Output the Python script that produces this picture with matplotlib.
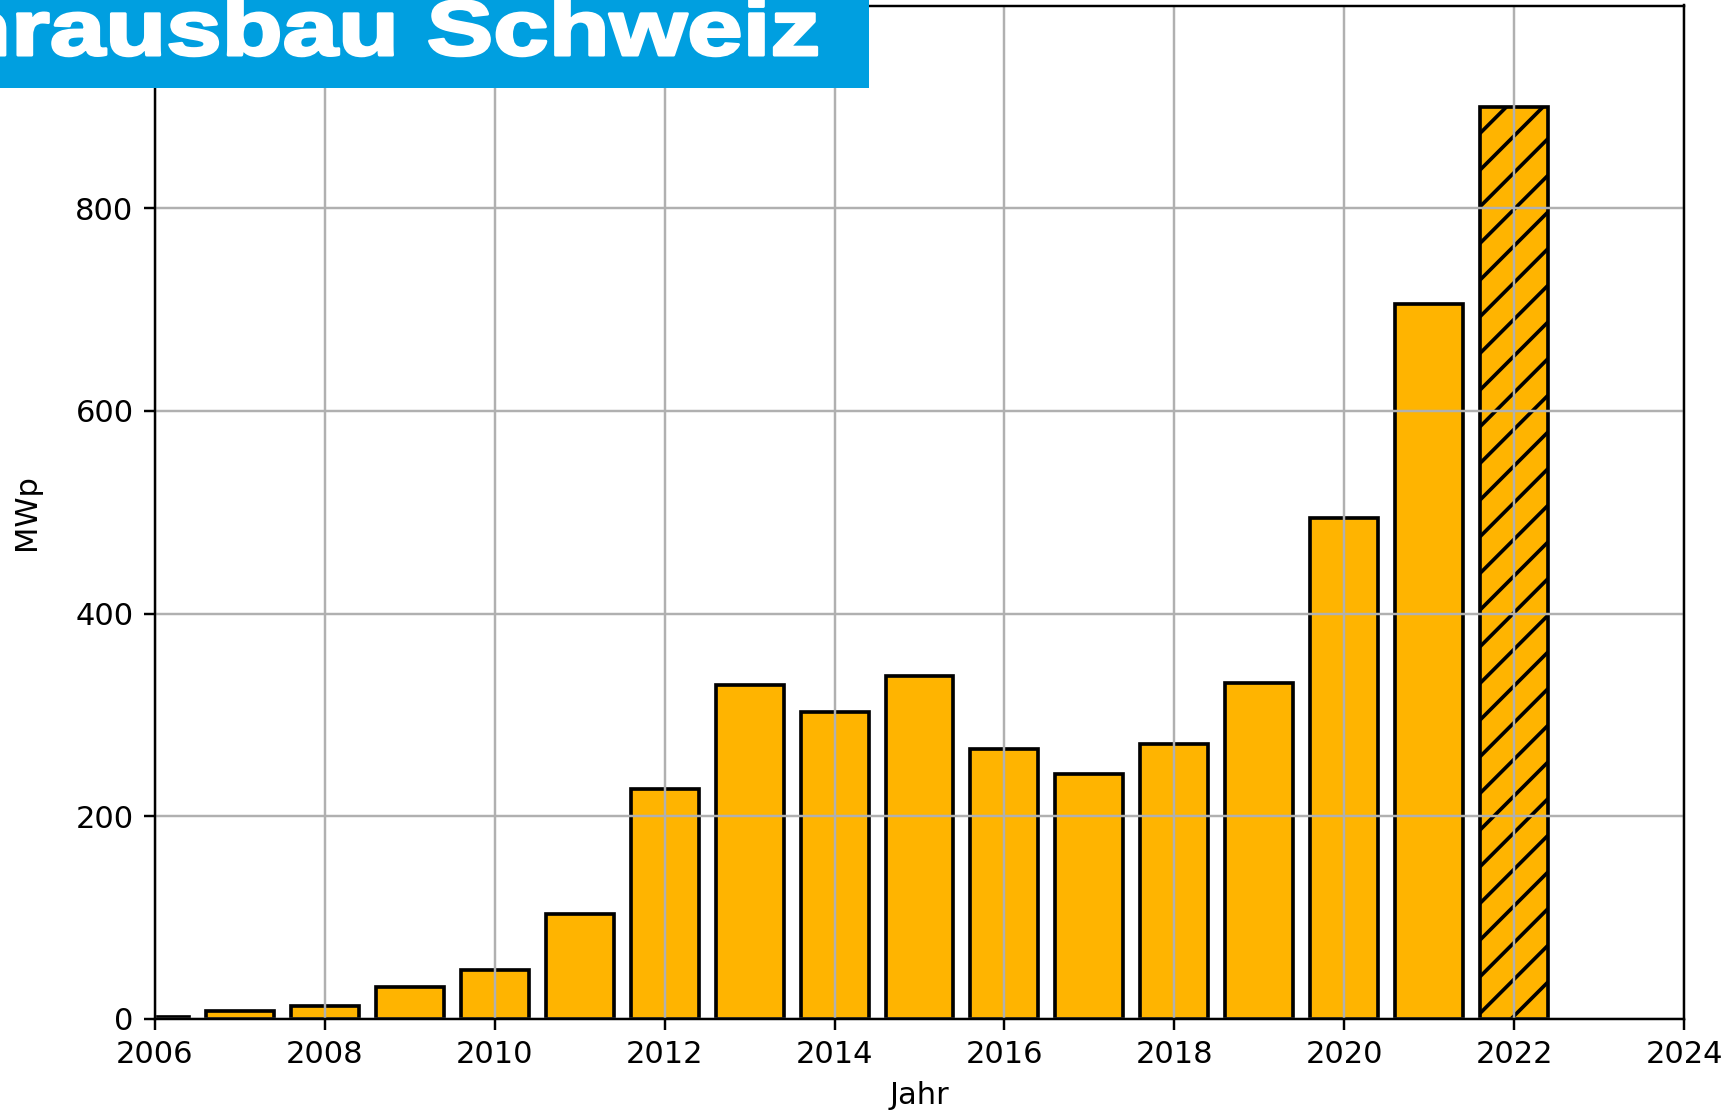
import matplotlib
matplotlib.use("Agg")
import matplotlib.pyplot as plt
from matplotlib.patches import Rectangle
from matplotlib.patheffects import AbstractPathEffect
from matplotlib.transforms import Affine2D, IdentityTransform

# Zubau pro Jahr (MWp), 2022 = Prognose (schraffiert)
jahre = [2006, 2007, 2008, 2009, 2010, 2011, 2012, 2013, 2014,
         2015, 2016, 2017, 2018, 2019, 2020, 2021, 2022]
mwp = [2, 8, 13, 32, 48, 104, 227, 330, 303,
       338, 266, 242, 271, 332, 494, 705, 900]
prognose = [False] * 16 + [True]
xticks = [2006, 2008, 2010, 2012, 2014, 2016, 2018, 2020, 2022, 2024]
yticks = [0, 200, 400, 600, 800]
titel = "Jahrausbau Schweiz"

DPI = 220
W, H = 1735, 1114

plt.rcParams["hatch.linewidth"] = 1.2


class StretchX(AbstractPathEffect):
    # breitgezogene, fette Schrift wie im Original-Banner
    def __init__(self, sx, lw):
        super().__init__()
        self.sx = sx
        self.lw = lw

    def draw_path(self, renderer, gc, tpath, affine, rgbFace=None):
        aff = affine + Affine2D().scale(self.sx, 1)
        gc0 = renderer.new_gc()
        gc0.copy_properties(gc)
        gc0.set_linewidth(self.lw)
        gc0.set_foreground(rgbFace if rgbFace is not None else "white")
        gc0.set_joinstyle("round")
        renderer.draw_path(gc0, tpath, aff, rgbFace)
        gc0.restore()


fig = plt.figure(figsize=(W / DPI, H / DPI), dpi=DPI)
ax = fig.add_axes([155 / W, 1 - 1019 / H, (1684 - 155) / W, (1019 - 5.5) / H])

gelb = "#FFB400"
for j, v, p in zip(jahre, mwp, prognose):
    ax.bar(j, v, width=0.8, color=gelb, edgecolor="black", linewidth=1.2,
           hatch="//" if p else None)

ax.set_xlim(2006, 2024)
ax.set_ylim(0, 1000)
ax.set_xticks(xticks)
ax.set_yticks(yticks)
ax.grid(True)
ax.set_xlabel("Jahr")
ax.set_ylabel("MWp")
ax.xaxis.set_label_coords(0.5, -0.061)
ax.yaxis.set_label_coords(-0.0746, 0.5)

# blaues Banner oben links
fig.add_artist(Rectangle((0, 1 - 88 / H), 869 / W, 88 / H, transform=fig.transFigure,
                         facecolor="#009FE0", edgecolor="none", zorder=10))
sx = 1.28
fig.text(819 / sx, H - 55, titel, transform=IdentityTransform(),
         ha="right", va="baseline", color="white", fontsize=25.5,
         fontweight="bold", family="Liberation Sans", zorder=11,
         path_effects=[StretchX(sx, 1.0)])

fig.savefig("out.png", dpi=DPI)
